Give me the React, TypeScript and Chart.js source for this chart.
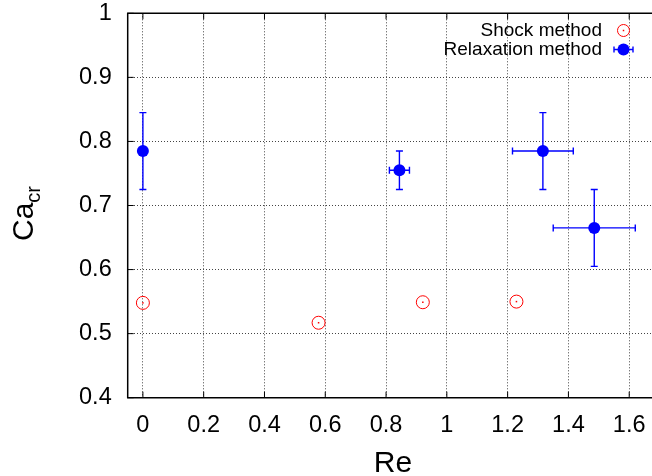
import React, { useEffect, useRef } from 'react';
import { Chart, registerables } from 'chart.js';

Chart.register(...registerables);

// ---- data ----
const shockRe = [0, 0.578, 0.921, 1.229];
const shockCa = [0.548, 0.517, 0.549, 0.55];

const relaxRe = [0, 0.844, 1.316, 1.485];
const relaxCa = [0.785, 0.755, 0.785, 0.665];
const relaxReErr = [0, 0.033, 0.1, 0.135];
const relaxCaErr = [0.06, 0.03, 0.06, 0.06];

const xTicks = [0, 0.2, 0.4, 0.6, 0.8, 1, 1.2, 1.4, 1.6];
const yTicks = [0.4, 0.5, 0.6, 0.7, 0.8, 0.9, 1];

const seriesLabels = ['Shock method', 'Relaxation method'];
const xTitle = 'Re';
const yTitleMain = 'Ca';
const yTitleSub = 'cr';

const FONT = "'Liberation Sans', Arial, Helvetica, sans-serif";
const RED = '#ff0000';
const BLUE = '#0000ff';

const decor = {
  id: 'decor',
  beforeDatasetsDraw(chart: any) {
    const ctx = chart.ctx;
    const xs = chart.scales.x;
    const ys = chart.scales.y;
    ctx.save();
    ctx.strokeStyle = BLUE;
    ctx.lineWidth = 1.4;
    const cap = 3.5;
    relaxRe.forEach((xv, i) => {
      const px = xs.getPixelForValue(xv);
      const py = ys.getPixelForValue(relaxCa[i]);
      const ey = relaxCaErr[i];
      const ex = relaxReErr[i];
      if (ey) {
        const y1 = ys.getPixelForValue(relaxCa[i] + ey);
        const y2 = ys.getPixelForValue(relaxCa[i] - ey);
        ctx.beginPath();
        ctx.moveTo(px, y1);
        ctx.lineTo(px, y2);
        ctx.moveTo(px - cap, y1);
        ctx.lineTo(px + cap, y1);
        ctx.moveTo(px - cap, y2);
        ctx.lineTo(px + cap, y2);
        ctx.stroke();
      }
      if (ex) {
        const x1 = xs.getPixelForValue(xv - ex);
        const x2 = xs.getPixelForValue(xv + ex);
        ctx.beginPath();
        ctx.moveTo(x1, py);
        ctx.lineTo(x2, py);
        ctx.moveTo(x1, py - cap);
        ctx.lineTo(x1, py + cap);
        ctx.moveTo(x2, py - cap);
        ctx.lineTo(x2, py + cap);
        ctx.stroke();
      }
    });
    ctx.restore();
  },
  afterDatasetsDraw(chart: any) {
    const ctx = chart.ctx;
    const xs = chart.scales.x;
    const ys = chart.scales.y;
    const ca = chart.chartArea;
    ctx.save();
    // center dots of shock symbols
    ctx.fillStyle = RED;
    shockRe.forEach((xv, i) => {
      const px = xs.getPixelForValue(xv);
      const py = ys.getPixelForValue(shockCa[i]);
      ctx.fillRect(px - 0.75, py - 0.75, 1.5, 1.5);
    });

    // frame
    ctx.strokeStyle = '#000';
    ctx.lineWidth = 1.5;
    ctx.beginPath();
    ctx.moveTo(ca.right + 2, ca.top);
    ctx.lineTo(ca.left, ca.top);
    ctx.lineTo(ca.left, ca.bottom);
    ctx.lineTo(ca.right + 2, ca.bottom);
    ctx.stroke();

    // inward ticks
    const tl = 6;
    ctx.lineWidth = 1;
    ctx.beginPath();
    xTicks.forEach((v) => {
      const px = xs.getPixelForValue(v);
      ctx.moveTo(px, ca.bottom);
      ctx.lineTo(px, ca.bottom - tl);
      ctx.moveTo(px, ca.top);
      ctx.lineTo(px, ca.top + tl);
    });
    yTicks.forEach((v) => {
      const py = ys.getPixelForValue(v);
      ctx.moveTo(ca.left, py);
      ctx.lineTo(ca.left + tl, py);
    });
    ctx.stroke();

    // legend
    ctx.fillStyle = '#000';
    ctx.font = `19px ${FONT}`;
    ctx.textAlign = 'right';
    ctx.textBaseline = 'middle';
    const lx = 602;
    const sx = 623.5;
    const rows = [30.5, 49.5];
    ctx.fillText(seriesLabels[0], lx, rows[0]);
    ctx.fillText(seriesLabels[1], lx, rows[1]);
    // shock symbol
    ctx.strokeStyle = RED;
    ctx.lineWidth = 1;
    ctx.beginPath();
    ctx.arc(sx, rows[0], 6, 0, Math.PI * 2);
    ctx.stroke();
    ctx.fillStyle = RED;
    ctx.fillRect(sx - 0.75, rows[0] - 0.75, 1.5, 1.5);
    // relaxation symbol
    ctx.strokeStyle = BLUE;
    ctx.lineWidth = 1.4;
    ctx.beginPath();
    ctx.moveTo(sx - 9.5, rows[1]);
    ctx.lineTo(sx + 9.5, rows[1]);
    ctx.moveTo(sx - 9.5, rows[1] - 3);
    ctx.lineTo(sx - 9.5, rows[1] + 3);
    ctx.moveTo(sx + 9.5, rows[1] - 3);
    ctx.lineTo(sx + 9.5, rows[1] + 3);
    ctx.stroke();
    ctx.fillStyle = BLUE;
    ctx.beginPath();
    ctx.arc(sx, rows[1], 6, 0, Math.PI * 2);
    ctx.fill();

    // axis titles
    ctx.fillStyle = '#000';
    ctx.font = `30px ${FONT}`;
    ctx.textAlign = 'center';
    ctx.textBaseline = 'alphabetic';
    ctx.fillText(xTitle, 393, 471.5);

    ctx.save();
    ctx.translate(33, 241);
    ctx.rotate(-Math.PI / 2);
    ctx.textAlign = 'left';
    ctx.font = `30px ${FONT}`;
    ctx.fillText(yTitleMain, 0, 0);
    const w = ctx.measureText(yTitleMain).width;
    ctx.font = `20px ${FONT}`;
    ctx.fillText(yTitleSub, w, 7);
    ctx.restore();

    ctx.restore();
  },
};

const zeroPad = (s: any) => {
  s.paddingLeft = 0;
  s.paddingRight = 0;
  s.paddingTop = 0;
  s.paddingBottom = 0;
};

export default function App() {
  const ref = useRef<HTMLCanvasElement | null>(null);
  useEffect(() => {
    if (!ref.current) return;
    const chart = new Chart(ref.current, {
      type: 'scatter',
      data: {
        datasets: [
          {
            label: seriesLabels[0],
            data: shockRe.map((x, i) => ({ x, y: shockCa[i] })),
            pointStyle: 'circle',
            pointRadius: 6.5,
            pointBorderWidth: 1,
            borderColor: RED,
            backgroundColor: 'rgba(0,0,0,0)',
            pointBackgroundColor: 'rgba(0,0,0,0)',
          },
          {
            label: seriesLabels[1],
            data: relaxRe.map((x, i) => ({ x, y: relaxCa[i] })),
            pointStyle: 'circle',
            pointRadius: 6,
            pointBorderWidth: 0,
            borderColor: BLUE,
            backgroundColor: BLUE,
          },
        ],
      },
      options: {
        responsive: false,
        animation: false,
        events: [],
        layout: { autoPadding: false, padding: { top: 13.3, right: 0, left: 0, bottom: 0 } },
        plugins: {
          legend: { display: false },
          tooltip: { enabled: false },
        },
        scales: {
          x: {
            type: 'linear',
            min: -0.05,
            max: 1.675,
            afterBuildTicks: (s: any) => {
              s.ticks = xTicks.map((v) => ({ value: v }));
            },
            afterFit: (s: any) => {
              s.height = 78.3;
              zeroPad(s);
            },
            ticks: {
              color: '#000',
              font: { family: FONT, size: 23.5 },
              padding: 14,
              maxRotation: 0,
              autoSkip: false,
              callback: (v: any) => String(v),
            },
            grid: { color: '#444', lineWidth: 1, drawTicks: false },
            border: { display: false, dash: [1, 2] },
          },
          y: {
            type: 'linear',
            min: 0.4,
            max: 1,
            afterBuildTicks: (s: any) => {
              s.ticks = yTicks.map((v) => ({ value: v }));
            },
            afterFit: (s: any) => {
              s.width = 127.7;
              zeroPad(s);
            },
            ticks: {
              color: '#000',
              font: { family: FONT, size: 23.5 },
              padding: 16,
              autoSkip: false,
              callback: (v: any) => String(v),
            },
            grid: { color: '#444', lineWidth: 1, drawTicks: false },
            border: { display: false, dash: [1, 2] },
          },
        },
      },
      plugins: [decor],
    } as any);
    return () => chart.destroy();
  }, []);
  return (
    <div style={{ position: 'absolute', left: 0, top: 0, width: 652, height: 476 }}>
      <canvas ref={ref} width={652} height={476} style={{ display: 'block' }} />
    </div>
  );
}
